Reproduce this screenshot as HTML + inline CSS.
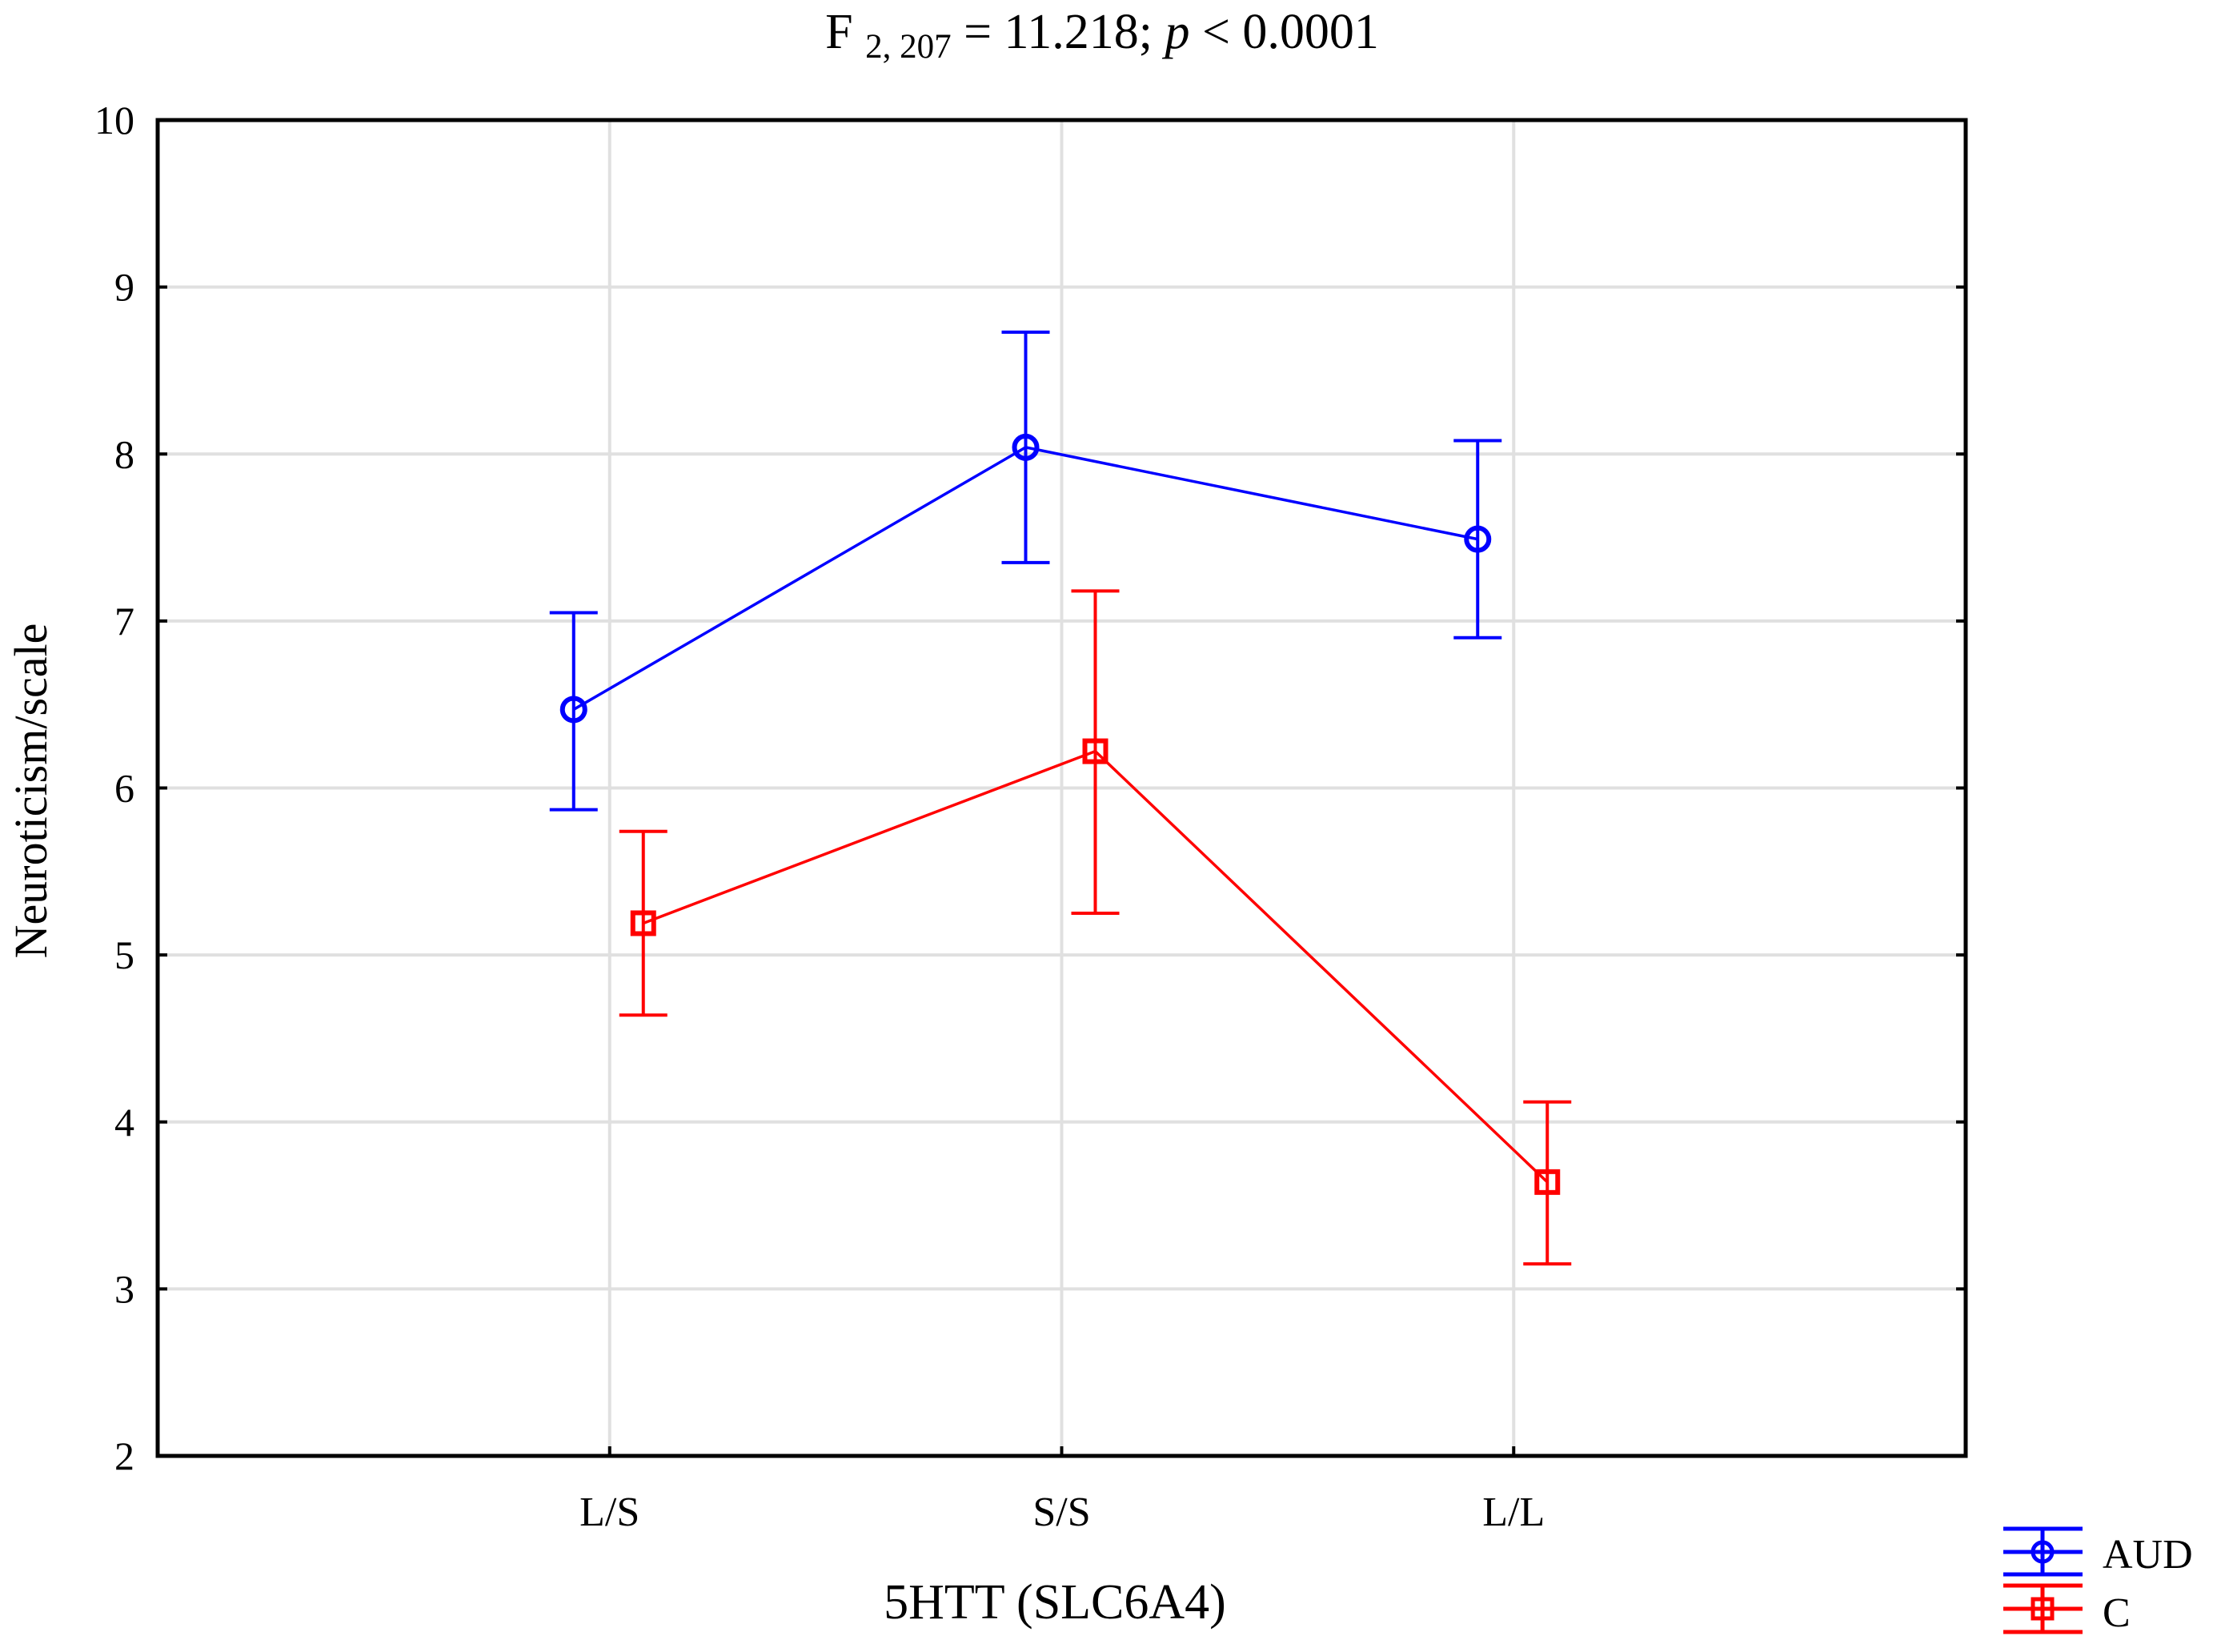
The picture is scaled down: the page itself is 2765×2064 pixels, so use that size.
<!DOCTYPE html>
<html><head><meta charset="utf-8"><style>
html,body{margin:0;padding:0;background:#fff}
svg{display:block;font-family:"Liberation Serif",serif}
</style></head><body>
<svg id="chart" width="2765" height="2064" viewBox="0 0 2765 2064" xmlns="http://www.w3.org/2000/svg">
<text x="1377" y="60" text-anchor="middle" font-size="62">F <tspan font-size="43" dy="12">2, 207</tspan><tspan dy="-12"> = 11.218; </tspan><tspan font-style="italic">p</tspan> &lt; 0.0001</text>
<g id="grid"></g>
<g id="axes"></g>
<g id="series"></g>
<text x="1318" y="2022" text-anchor="middle" font-size="62">5HTT (SLC6A4)</text>
<text transform="translate(58,988) rotate(-90)" text-anchor="middle" font-size="58">Neuroticism/scale</text>
<g>
<g stroke="#0000ff" stroke-width="5" fill="none">
<line x1="2503" y1="1910" x2="2602" y2="1910"/><line x1="2503" y1="1939" x2="2602" y2="1939"/><line x1="2503" y1="1967" x2="2602" y2="1967"/><line x1="2552" y1="1910" x2="2552" y2="1967"/><circle cx="2552" cy="1939" r="12"/>
</g>
<text x="2627" y="1959" font-size="52">AUD</text>
<g stroke="#ff0000" stroke-width="5" fill="none">
<line x1="2503" y1="1981" x2="2602" y2="1981"/><line x1="2503" y1="2010" x2="2602" y2="2010"/><line x1="2503" y1="2039" x2="2602" y2="2039"/><line x1="2552" y1="1981" x2="2552" y2="2039"/><rect x="2540" y="1998" width="24" height="24"/>
</g>
<text x="2627" y="2032" font-size="52">C</text>
</g>
</svg>
<script>
const categories = ["L/S","S/S","L/L"];
const yTicks = [2,3,4,5,6,7,8,9,10];
const audMean = [6.47,8.04,7.49];
const audLow = [5.87,7.35,6.90];
const audHigh = [7.05,8.73,8.08];
const cMean = [5.19,6.22,3.64];
const cLow = [4.64,5.25,3.15];
const cHigh = [5.74,7.18,4.12];

const L=197,R=2456,T=150,B=1819,yMin=2,yMax=10;
const NS="http://www.w3.org/2000/svg";
function yS(v){return B-(v-yMin)/(yMax-yMin)*(B-T);}
function xS(i){return L+(i+1)/(categories.length+1)*(R-L);}
function mk(tag,attrs,parent){const e=document.createElementNS(NS,tag);for(const k in attrs)e.setAttribute(k,attrs[k]);parent.appendChild(e);return e;}
const grid=document.getElementById('grid'),axes=document.getElementById('axes'),series=document.getElementById('series');
yTicks.forEach(v=>{
  if(v>yMin&&v<yMax){const g=mk('line',{x1:L,x2:R,y1:yS(v),y2:yS(v),stroke:'#e0e0e0','stroke-width':4},grid);
  
  }
  const t1=mk('line',{x1:L,x2:L+12,y1:yS(v),y2:yS(v),stroke:'#000','stroke-width':4},axes);
  
  
  const t2=mk('line',{x1:R-12,x2:R,y1:yS(v),y2:yS(v),stroke:'#000','stroke-width':4},axes);
  
  
  const lb=mk('text',{x:168,y:yS(v)+17,'text-anchor':'end','font-size':50},axes);
  lb.textContent=v;
  
  
});
categories.forEach((c,i)=>{
  const g=mk('line',{x1:xS(i),x2:xS(i),y1:T,y2:B,stroke:'#e0e0e0','stroke-width':4},grid);
  
  
  const t=mk('line',{x1:xS(i),x2:xS(i),y1:B-12,y2:B,stroke:'#000','stroke-width':4},axes);
  
  
  const lb=mk('text',{x:xS(i),y:1906,'text-anchor':'middle','font-size':52},axes);
  lb.textContent=c;
  
  
});
const frame=mk('rect',{x:L,y:T,width:R-L,height:B-T,fill:'none',stroke:'#000','stroke-width':5},axes);



function drawSeries(name,mean,lo,hi,color,off,marker){
  const g=mk('g',{},series);
  
  
  const pts=mean.map((v,i)=>(xS(i)+off)+','+yS(v)).join(' ');
  const pl=mk('polyline',{points:pts,fill:'none',stroke:color,'stroke-width':3.5},g);
  
  
  mean.forEach((v,i)=>{
    const x=xS(i)+off;
    const eb=mk('path',{d:`M${x},${yS(lo[i])}V${yS(hi[i])}M${x-30},${yS(hi[i])}H${x+30}M${x-30},${yS(lo[i])}H${x+30}`,stroke:color,'stroke-width':4,fill:'none'},g);
    
    
    let m;
    if(marker==='circle') m=mk('circle',{cx:x,cy:yS(v),r:14,fill:'none',stroke:color,'stroke-width':6},g);
    else m=mk('rect',{x:x-13,y:yS(v)-13,width:26,height:26,fill:'none',stroke:color,'stroke-width':6},g);
    
    
  });
}
drawSeries('aud',audMean,audLow,audHigh,'#0000ff',-45,'circle');
drawSeries('c',cMean,cLow,cHigh,'#ff0000',42,'square');
</script>
</body></html>
